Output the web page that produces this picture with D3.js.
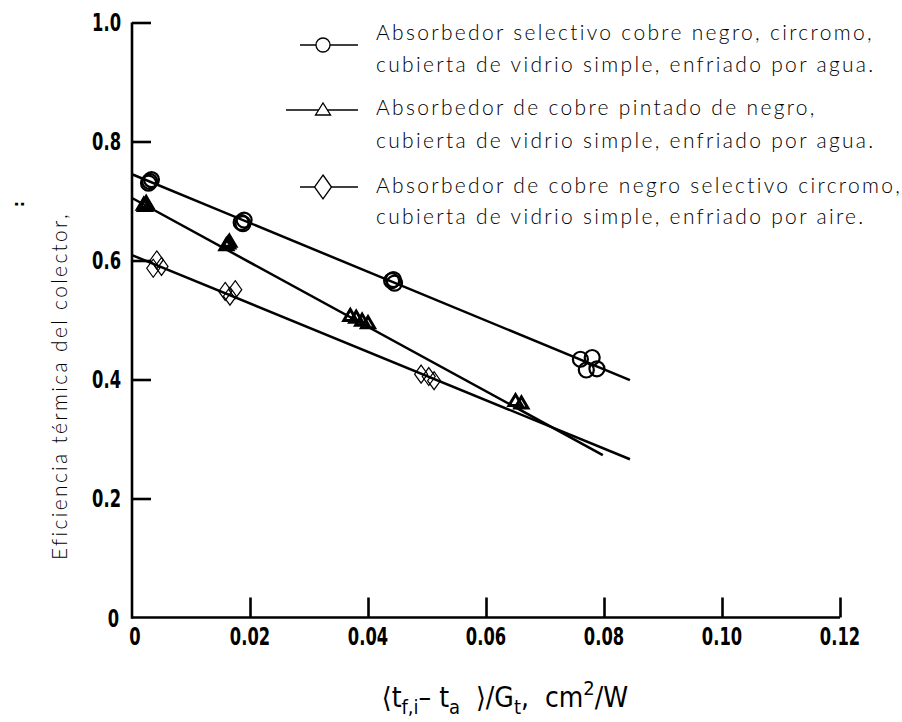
<!DOCTYPE html>
<html>
<head>
<meta charset="utf-8">
<script src="https://cdn.jsdelivr.net/npm/d3@7"></script>
<style>
  body { margin: 0; background: #fff; }
  text { white-space: pre; }
</style>
</head>
<body>
<div id="chart"></div>
<script>
// Axis ticks
const xTicks = [0, 0.02, 0.04, 0.06, 0.08, 0.10, 0.12];
const xTickLabels = ["0", "0.02", "0.04", "0.06", "0.08", "0.10", "0.12"];
const yTicks = [0.2, 0.4, 0.6, 0.8, 1.0];
const yTickLabels = ["0.2", "0.4", "0.6", "0.8", "1.0"];

// Measured points, x = (tf,i - ta)/Gt, y = efficiency
const circleX = [0.0028, 0.0033, 0.0030, 0.0185, 0.0190, 0.0188, 0.0440, 0.0445, 0.0443, 0.0760, 0.0780, 0.0770, 0.0788];
const circleY = [0.730, 0.736, 0.733, 0.664, 0.668, 0.662, 0.566, 0.562, 0.568, 0.434, 0.437, 0.416, 0.418];

const triangleX = [0.0020, 0.0024, 0.0022, 0.0160, 0.0165, 0.0163, 0.0370, 0.0380, 0.0390, 0.0400, 0.0650, 0.0660];
const triangleY = [0.692, 0.695, 0.690, 0.624, 0.630, 0.627, 0.505, 0.502, 0.497, 0.493, 0.362, 0.358];

const diamondX = [0.0042, 0.0036, 0.0050, 0.0158, 0.0175, 0.0166, 0.0490, 0.0503, 0.0512];
const diamondY = [0.601, 0.587, 0.590, 0.548, 0.551, 0.540, 0.409, 0.405, 0.398];

// Fitted straight lines (start, end)
const fitCircle = [[0, 0.745], [0.0844, 0.399]];
const fitTriangle = [[0, 0.705], [0.0798, 0.273]];
const fitDiamond = [[0, 0.609], [0.0844, 0.266]];

// Legend text
const legendLines = [
    ["Absorbedor selectivo cobre negro, circromo,", "cubierta de vidrio simple, enfriado por agua."],
    ["Absorbedor de cobre pintado de negro,", "cubierta de vidrio simple, enfriado por agua."],
    ["Absorbedor de cobre negro selectivo circromo,", "cubierta de vidrio simple, enfriado por aire."]
];

const width = 902;
const height = 722;
const tickFont = "'DejaVu Sans', sans-serif";
const titleFont = "'Liberation Sans Narrow', 'DejaVu Sans Condensed', 'DejaVu Sans', sans-serif";
const thinFont = "Lato, 'Open Sans', sans-serif";

const svg = d3.select("#chart")
    .append("svg")
    .attr("width", width)
    .attr("height", height)
    .attr("viewBox", [0, 0, width, height]);

const x = d3.scaleLinear().domain([0, 0.12]).range([132, 840]);
const y = d3.scaleLinear().domain([0, 1]).range([617.5, 22.5]);

// Axes (ticks point inward)
svg.append("g")
    .attr("transform", `translate(0,${y(0)})`)
    .call(d3.axisBottom(x).tickValues(xTicks.slice(1)).tickSize(-20).tickFormat(""))
    .call(g => g.select(".domain").attr("d", `M${x(0)},0H${x(0.12)}`))
    .call(g => g.selectAll("path, line").attr("stroke", "#000").attr("stroke-width", 2.6));

svg.append("g")
    .attr("transform", `translate(${x(0)},0)`)
    .call(d3.axisLeft(y).tickValues(yTicks).tickSize(-19).tickFormat(""))
    .call(g => g.select(".domain").attr("d", `M0,${y(1)}V${y(0) + 1.3}`))
    .call(g => g.selectAll("path, line").attr("stroke", "#000").attr("stroke-width", 2.6));

// Tick labels, bold and narrow like the drafting lettering
svg.append("g")
    .selectAll("text")
    .data(xTicks)
    .join("text")
    .attr("transform", (d, i) => `translate(${x(d) + (i === 0 ? 3 : 0)},645) scale(0.68,1)`)
    .attr("text-anchor", "middle")
    .style("font-family", tickFont)
    .style("font-weight", "bold")
    .style("font-size", "24px")
    .text((d, i) => xTickLabels[i]);

svg.append("g")
    .selectAll("text")
    .data(yTicks)
    .join("text")
    .attr("transform", d => `translate(121,${y(d) + 8.5}) scale(0.68,1)`)
    .attr("text-anchor", "end")
    .style("font-family", tickFont)
    .style("font-weight", "bold")
    .style("font-size", "24px")
    .text((d, i) => yTickLabels[i]);

svg.append("text")
    .attr("transform", "translate(119,626.5) scale(0.68,1)")
    .attr("text-anchor", "end")
    .style("font-family", tickFont)
    .style("font-weight", "bold")
    .style("font-size", "24px")
    .text("0");

// Fitted lines
const line = d3.line().x(d => x(d[0])).y(d => y(d[1]));
[fitCircle, fitTriangle, fitDiamond].forEach(f => {
    svg.append("path")
        .attr("d", line(f))
        .attr("fill", "none")
        .attr("stroke", "#000")
        .attr("stroke-width", 2.5);
});

// Marker shapes
const triPath = (cx, cy, w, h) => `M${cx - w / 2},${cy + h / 2}L${cx},${cy - h / 2}L${cx + w / 2},${cy + h / 2}Z`;
const diaPath = (cx, cy, w, h) => `M${cx},${cy - h / 2}L${cx + w / 2},${cy}L${cx},${cy + h / 2}L${cx - w / 2},${cy}Z`;

svg.append("g")
    .selectAll("circle")
    .data(circleX)
    .join("circle")
    .attr("cx", d => x(d))
    .attr("cy", (d, i) => y(circleY[i]))
    .attr("r", 7.5)
    .attr("fill", "none")
    .attr("stroke", "#000")
    .attr("stroke-width", 2.2);

svg.append("g")
    .selectAll("path")
    .data(triangleX)
    .join("path")
    .attr("d", (d, i) => triPath(x(d), y(triangleY[i]) - 2, 13, 11))
    .attr("fill", "none")
    .attr("stroke", "#000")
    .attr("stroke-width", 3);

svg.append("g")
    .selectAll("path")
    .data(diamondX)
    .join("path")
    .attr("d", (d, i) => diaPath(x(d), y(diamondY[i]), 13, 18))
    .attr("fill", "none")
    .attr("stroke", "#000")
    .attr("stroke-width", 1.2);

// Legend
const legendY = [45, 110, 187];
const legendLineStart = [300, 286, 300];
const legendBase = [[40, 72], [115, 148], [193, 224]];
legendY.forEach((ly, i) => {
    svg.append("line")
        .attr("x1", legendLineStart[i]).attr("x2", 358)
        .attr("y1", ly).attr("y2", ly)
        .attr("stroke", "#000").attr("stroke-width", 1.3);
    const cx = 323;
    if (i === 0) {
        svg.append("circle").attr("cx", cx).attr("cy", ly).attr("r", 7)
            .attr("fill", "#fff").attr("stroke", "#000").attr("stroke-width", 1.3);
    } else if (i === 1) {
        svg.append("path").attr("d", triPath(cx, ly - 1, 15, 12))
            .attr("fill", "#fff").attr("stroke", "#000").attr("stroke-width", 1.3);
    } else {
        svg.append("path").attr("d", diaPath(cx, ly, 17, 24))
            .attr("fill", "#fff").attr("stroke", "#000").attr("stroke-width", 1.3);
    }
});

const legendTexts = [];
legendLines.forEach((pair, i) => {
    pair.forEach((t, j) => {
        legendTexts.push(svg.append("text")
            .attr("x", 376)
            .attr("y", legendBase[i][j])
            .attr("fill", "#000")
            .style("font-family", thinFont)
            .style("font-weight", 300)
            .style("font-size", "21px")
            .text(t));
    });
});

// Y axis title
const yTitle = svg.append("text")
    .attr("transform", "translate(67,386) rotate(-90)")
    .attr("text-anchor", "middle")
    .attr("fill", "#000")
    .style("font-family", thinFont)
    .style("font-weight", 300)
    .style("font-size", "21px")
    .text("Eficiencia térmica del colector,");

// stretch letter spacing to the width of the drawing's lettering
const firstW = legendTexts[0].node().getComputedTextLength();
const n0 = legendLines[0][0].length;
const spacing = (496 - firstW) / (n0 - 1);
legendTexts.forEach(t => t.style("letter-spacing", `${spacing}px`));
yTitle.style("letter-spacing", `${spacing}px`);

svg.append("text")
    .attr("transform", "translate(24,204) rotate(-90)")
    .attr("text-anchor", "middle")
    .style("font-family", tickFont)
    .style("font-weight", "bold")
    .style("font-size", "16px")
    .text(":");

// X axis title
const xTitle = svg.append("text")
    .attr("x", 505)
    .attr("y", 707)
    .attr("text-anchor", "middle")
    .style("font-family", titleFont)
    .style("font-size", "28px");
const parts = [["⟨t", 0], ["f,i", 1], ["– t", 0], ["a", 1], ["  ⟩/G", 0], ["t", 1], [",  cm", 0], ["2", -1], ["/W", 0]];
let shift = 0;
parts.forEach(([s, k]) => {
    const target = k === 1 ? 7 : (k === -1 ? -12 : 0);
    xTitle.append("tspan")
        .attr("dy", target - shift)
        .style("font-size", k === 0 ? "28px" : "20px")
        .text(s);
    shift = target;
});
</script>
</body>
</html>
